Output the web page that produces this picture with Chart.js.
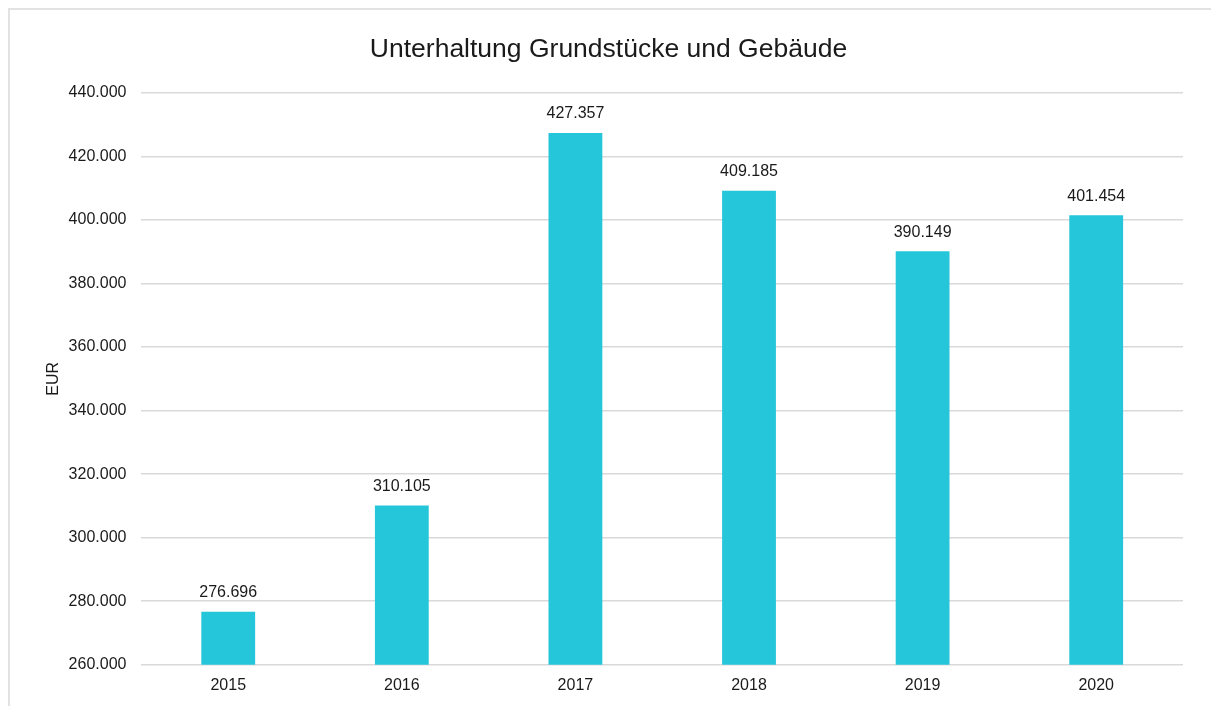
<!DOCTYPE html>
<html>
<head>
<meta charset="utf-8">
<script src="https://cdn.jsdelivr.net/npm/chart.js@4/dist/chart.umd.min.js"></script>
<style>
  html, body { margin: 0; padding: 0; background: #fff; overflow: hidden; }
  #frame { position: absolute; left: 8px; top: 8px; width: 1400px; height: 900px;
           border-left: 2px solid #e2e2e2; border-top: 2px solid #e2e2e2; }
  #wrap { position: absolute; left: 0; top: 0; width: 1211px; height: 706px; }
</style>
</head>
<body>
<div id="frame"></div>
<div id="wrap"><canvas id="chart" width="1211" height="706"></canvas></div>
<script>
const years = ['2015', '2016', '2017', '2018', '2019', '2020'];
const amounts = [276696, 310105, 427357, 409185, 390149, 401454];
const yMin = 260000;
const yMax = 440000;
const yStep = 20000;

function fmt(v) {
  return String(Math.round(v)).replace(/\B(?=(\d{3})+(?!\d))/g, '.');
}

// draws the value above each bar
const valueLabels = {
  id: 'valueLabels',
  afterDatasetsDraw(chart) {
    const ctx = chart.ctx;
    const meta = chart.getDatasetMeta(0);
    ctx.save();
    ctx.font = '16px "Liberation Sans", Arial, sans-serif';
    ctx.fillStyle = '#1a1a1a';
    ctx.textAlign = 'center';
    ctx.textBaseline = 'middle';
    meta.data.forEach((bar, i) => {
      ctx.fillText(fmt(amounts[i]), bar.x, bar.y - 19);
    });
    ctx.restore();
  }
};

Chart.defaults.font.family = '"Liberation Sans", Arial, sans-serif';
Chart.defaults.color = '#1a1a1a';

new Chart(document.getElementById('chart').getContext('2d'), {
  type: 'bar',
  data: {
    labels: years,
    datasets: [{
      label: 'EUR',
      data: amounts,
      backgroundColor: '#26C6DA',
      categoryPercentage: 1,
      barPercentage: 0.31
    }]
  },
  options: {
    responsive: false,
    animation: false,
    layout: { padding: { left: 34, right: 28, top: 0, bottom: 0 } },
    plugins: {
      legend: { display: false },
      tooltip: { enabled: false },
      title: {
        display: true,
        text: 'Unterhaltung Grundstücke und Gebäude',
        font: { size: 26.5, weight: 'normal' },
        color: '#1a1a1a',
        padding: { top: 33.5, bottom: 27.5 }
      }
    },
    scales: {
      x: {
        grid: { display: false, drawTicks: false },
        border: { display: false },
        ticks: { font: { size: 16 }, padding: 11 }
      },
      y: {
        min: yMin,
        max: yMax,
        title: { display: true, text: 'EUR', font: { size: 16 }, padding: { top: 10, bottom: -9.6 } },
        grid: { color: '#d9d9d9', lineWidth: 1.5, drawTicks: false },
        border: { display: false },
        ticks: { stepSize: yStep, font: { size: 16 }, padding: 15, callback: v => fmt(v) }
      }
    }
  },
  plugins: [valueLabels]
});
</script>
</body>
</html>
